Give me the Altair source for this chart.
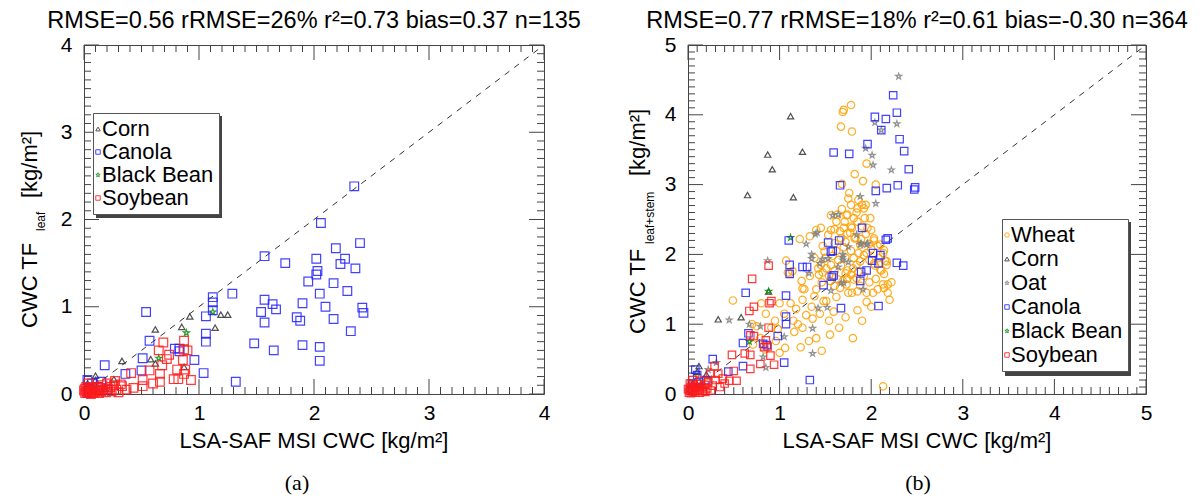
import altair as alt
import pandas as pd

SANS = "Liberation Sans"
SERIF = "Liberation Serif"
STAR = ("M0,-1L0.2245,-0.309L0.9511,-0.309L0.3633,0.118L0.5878,0.809L0,0.382"
        "L-0.5878,0.809L-0.3633,0.118L-0.9511,-0.309L-0.2245,-0.309Z")

# ---------------- panel (a): CWC TF leaf vs LSA-SAF MSI CWC ----------------
A_CANOLA = [(1.12, 1.11), (1.12, 1.05), (1.12, 0.96), (1.29, 1.15), (1.57, 1.08), (1.64, 1.03),
            (1.67, 0.97), (1.54, 0.94), (1.57, 0.82), (0.54, 0.94), (1.06, 0.89), (1.06, 0.69),
            (1.06, 0.60), (1.48, 0.58), (1.65, 0.50), (0.57, 0.61), (0.79, 0.52), (0.83, 0.52),
            (0.83, 0.49), (0.96, 0.39), (0.51, 0.41), (0.50, 0.27), (1.04, 0.24), (0.18, 0.33),
            (0.36, 0.23), (1.32, 0.14), (0.03, 0.16),
            (2.35, 2.38), (2.06, 1.96), (1.57, 1.58), (1.75, 1.50), (2.02, 1.55), (2.03, 1.41),
            (2.19, 1.67), (2.27, 1.55), (2.40, 1.73), (2.23, 1.49), (2.36, 1.44), (2.17, 1.27),
            (2.29, 1.18), (2.05, 1.15), (1.95, 1.29), (2.02, 1.37), (2.42, 0.99), (2.43, 0.93),
            (2.32, 0.72), (2.05, 0.54), (2.05, 0.38), (1.90, 0.56), (1.85, 0.88), (1.88, 0.84),
            (1.90, 1.04), (2.10, 1.00), (2.17, 0.86),
            (0.03, 0.02), (0.05, 0.06), (0.12, 0.08), (0.20, 0.05), (0.07, 0.12), (0.15, 0.14)]
A_CORN = [(0.92, 0.89), (1.19, 0.91), (1.25, 0.91), (0.62, 0.74), (0.85, 0.77), (1.14, 0.76),
          (0.33, 0.38), (0.58, 0.40), (0.62, 0.35), (0.87, 0.31), (0.10, 0.21), (0.10, 0.16),
          (0.26, 0.17), (0.19, 0.06), (0.05, 0.08), (0.12, 0.03), (0.03, 0.12)]
A_BLACKBEAN = [(1.12, 0.94), (0.89, 0.70), (0.65, 0.41), (0.08, 0.06)]
A_SOYBEAN = [(0.69, 0.59), (0.87, 0.61), (0.65, 0.50), (0.72, 0.40), (0.87, 0.51), (0.90, 0.50),
             (0.86, 0.39), (0.68, 0.33), (0.57, 0.27), (0.41, 0.24), (0.66, 0.23), (0.81, 0.28),
             (0.87, 0.23), (0.88, 0.28), (0.78, 0.17), (0.82, 0.17), (0.93, 0.16), (0.66, 0.14),
             (0.51, 0.16), (0.51, 0.09), (0.43, 0.07), (0.32, 0.11), (0.33, 0.09), (0.27, 0.15),
             (0.23, 0.08), (0.14, 0.07), (0.74, 0.45), (0.60, 0.12), (0.37, 0.05),
             (0.01, 0.01), (0.02, 0.03), (0.03, 0.01), (0.04, 0.05), (0.05, 0.02), (0.06, 0.07),
             (0.07, 0.03), (0.08, 0.01), (0.09, 0.05), (0.10, 0.02), (0.11, 0.08), (0.12, 0.04),
             (0.13, 0.01), (0.15, 0.03), (0.16, 0.10), (0.17, 0.05), (0.19, 0.02), (0.20, 0.12),
             (0.21, 0.06), (0.24, 0.03), (0.26, 0.10), (0.28, 0.05), (0.30, 0.02), (0.02, 0.08),
             (0.04, 0.12), (0.06, 0.00), (0.00, 0.04), (0.01, 0.06)]

# ---------------- panel (b): CWC TF leaf+stem vs LSA-SAF MSI CWC ----------------
B_WHEAT = [(1.22, 2.22), (1.40, 2.35), (1.07, 1.91), (1.11, 1.73), (1.14, 1.76), (1.24, 1.62),
           (1.25, 1.51), (1.27, 1.50), (1.33, 1.69), (1.40, 1.50), (1.43, 1.71), (1.46, 1.60),
           (1.48, 1.33), (1.51, 1.33), (1.18, 1.22), (1.29, 1.13), (1.36, 1.08), (1.16, 0.89),
           (1.32, 0.76), (1.40, 0.80), (1.23, 0.67), (1.46, 0.62), (1.54, 1.05), (1.59, 1.18),
           (1.62, 1.39), (1.66, 1.52), (1.80, 0.80), (1.79, 1.45), (1.85, 1.47), (1.73, 1.57),
           (1.84, 1.66), (1.95, 1.32), (1.95, 1.45), (2.02, 1.45), (2.07, 1.50), (2.13, 1.57),
           (2.18, 1.57), (2.14, 1.52), (2.17, 1.85), (2.10, 1.78), (2.14, 1.72), (2.03, 1.87),
           (1.98, 1.92), (1.92, 1.99), (1.84, 1.85), (1.81, 1.95), (1.92, 1.69), (1.81, 1.64),
           (1.78, 1.71), (1.72, 1.73), (1.69, 1.62), (1.64, 1.64), (1.60, 1.76), (1.56, 1.85),
           (1.54, 1.69), (1.51, 1.80), (1.45, 1.85), (1.42, 1.80), (1.38, 1.95), (1.49, 2.04),
           (1.60, 2.16), (1.67, 2.23), (1.74, 2.30), (1.78, 2.40), (1.85, 2.47), (1.93, 2.52),
           (1.71, 2.47), (1.73, 2.56), (1.56, 2.56), (1.62, 2.47), (1.85, 2.66), (1.90, 2.71),
           (1.78, 2.71), (1.96, 2.38), (2.03, 2.23), (2.14, 2.06), (2.10, 2.14), (1.88, 2.14),
           (1.82, 2.23), (1.56, 2.35), (1.53, 2.28), (1.09, 1.74), (1.06, 0.66), (1.00, 0.59),
           (0.96, 0.76), (0.91, 0.95), (0.75, 0.97), (0.79, 0.80), (0.71, 0.71), (0.49, 1.34),
           (2.13, 0.11), (0.84, 0.64), (0.98, 0.93),
           (1.70, 4.07), (1.78, 4.14), (1.69, 4.04), (1.67, 3.83), (1.79, 3.76), (1.91, 3.05),
           (1.68, 3.01), (1.75, 2.80), (1.86, 2.78), (1.94, 2.71), (1.92, 2.66), (1.63, 2.57),
           (1.74, 2.57), (1.81, 2.52), (1.99, 2.52), (1.79, 2.38), (1.70, 2.38), (1.60, 2.36),
           (1.45, 2.38), (1.77, 2.31), (1.83, 2.24), (1.94, 2.29), (1.89, 2.22), (1.33, 2.26),
           (1.47, 1.74), (2.03, 2.20), (2.07, 2.12), (2.00, 2.08), (2.13, 2.02), (2.15, 1.91),
           (2.04, 1.84), (2.11, 1.77), (2.17, 1.90), (1.74, 1.77), (1.67, 1.84),
           (1.72, 1.10), (1.85, 1.20), (1.65, 0.95), (1.90, 1.05), (2.00, 1.25), (1.55, 0.85),
           (1.35, 1.25), (1.25, 1.35), (1.12, 1.30), (1.05, 1.15), (0.95, 1.05), (1.20, 1.00),
           (1.44, 1.15), (2.20, 1.35), (2.22, 1.60), (2.18, 1.45), (2.05, 1.65), (1.98, 1.60),
           (1.88, 1.55), (1.75, 1.45), (0.06, 0.10), (0.14, 0.05), (0.22, 0.16),
           (1.62, 2.05), (1.70, 2.10), (1.78, 2.05), (1.86, 2.02), (1.72, 1.95), (1.64, 1.92),
           (1.58, 1.98), (1.80, 1.80), (1.88, 1.90), (1.95, 2.02), (1.98, 2.15), (1.66, 2.33),
           (1.72, 2.18), (1.90, 2.40), (2.00, 2.35), (1.55, 1.62), (1.60, 1.55), (1.74, 1.65),
           (1.86, 1.75), (2.08, 1.95), (1.50, 1.95), (1.47, 2.12), (1.84, 2.60), (1.68, 2.65),
           (1.76, 2.88), (1.82, 3.15), (1.95, 3.30), (2.05, 3.00), (1.25, 0.95), (1.15, 1.05),
           (1.38, 1.40), (0.85, 1.15), (0.80, 1.30), (1.00, 1.30), (0.70, 1.00)]
B_OAT = [(2.05, 2.73), (1.58, 2.56), (1.41, 2.31), (1.29, 2.15), (1.35, 1.94), (1.32, 1.73),
         (1.44, 1.87), (1.64, 1.82), (1.53, 1.94), (1.75, 1.89), (1.69, 1.96), (1.88, 2.14),
         (1.95, 2.14), (1.84, 2.28), (1.67, 1.59), (1.70, 1.59), (1.56, 1.48), (1.42, 1.23),
         (1.52, 1.24), (1.91, 1.50), (1.36, 0.94), (1.36, 0.58), (0.87, 1.91), (0.67, 1.00),
         (0.45, 1.06), (0.79, 0.97), (0.82, 0.53), (1.05, 0.82), (0.31, 0.45), (0.22, 0.35),
         (0.85, 0.38), (0.10, 0.26),
         (2.04, 3.89), (2.28, 3.87), (2.11, 3.78), (1.94, 3.52), (2.01, 3.42), (2.02, 3.28),
         (2.22, 3.21), (1.88, 2.83), (1.64, 2.57), (1.39, 2.29), (1.35, 2.00), (1.47, 1.93),
         (1.75, 2.11), (1.89, 2.16), (1.96, 2.16), (1.69, 2.00), (1.69, 1.92), (2.30, 4.55),
         (0.05, 0.12), (0.15, 0.20)]
B_CORN = [(0.65, 2.85), (0.87, 3.43), (0.92, 3.22), (1.12, 3.98), (1.15, 2.82), (1.25, 3.47),
          (0.33, 1.07), (0.58, 1.10), (0.88, 1.47), (0.12, 0.40), (0.10, 0.32), (0.05, 0.15),
          (0.03, 0.08), (0.15, 0.12), (0.20, 0.28)]
B_CANOLA = [(1.90, 2.38), (2.18, 2.23), (1.65, 2.20), (1.53, 2.17), (1.56, 2.04), (1.10, 2.20),
            (2.10, 1.99), (2.08, 1.87), (2.35, 1.84), (1.89, 1.75), (1.88, 1.62), (1.57, 1.68),
            (1.48, 1.56), (1.25, 1.82), (1.11, 1.85), (1.11, 1.72), (2.08, 1.26), (1.67, 1.23),
            (1.07, 1.41), (0.63, 1.45), (1.07, 1.11), (1.07, 1.00), (0.98, 0.83), (0.82, 0.72),
            (0.86, 0.70), (0.66, 0.87), (0.60, 0.73), (0.27, 0.50), (0.60, 0.40), (0.44, 0.32),
            (1.05, 0.45), (1.33, 0.20), (0.10, 0.27),
            (2.24, 4.28), (2.04, 3.97), (2.16, 3.94), (2.28, 4.03), (2.11, 3.78), (2.31, 3.65),
            (1.96, 3.58), (2.36, 3.48), (1.59, 3.46), (1.76, 3.44), (2.41, 3.22), (1.66, 2.99),
            (2.05, 2.91), (2.17, 2.95), (2.29, 2.99), (2.48, 2.96), (2.47, 2.93), (2.16, 2.21),
            (1.58, 2.05), (2.02, 2.02), (2.01, 1.91), (2.28, 1.88), (1.30, 1.82), (1.95, 1.77),
            (1.59, 1.70), (0.02, 0.05), (0.05, 0.15), (0.12, 0.10), (0.20, 0.20), (0.08, 0.35)]
B_BLACKBEAN = [(1.12, 2.24), (0.88, 1.47), (0.67, 0.75), (0.10, 0.12)]
B_SOYBEAN = [(0.88, 1.84), (0.70, 1.65), (0.89, 1.30), (0.91, 1.33), (0.72, 1.25), (0.67, 1.19),
             (0.88, 0.95), (0.72, 0.83), (0.68, 0.84), (0.85, 0.77), (0.83, 0.67), (0.87, 0.68),
             (0.48, 0.56), (0.62, 0.58), (0.68, 0.56), (0.90, 0.55), (0.79, 0.43), (0.94, 0.42),
             (0.68, 0.36), (0.50, 0.33), (0.53, 0.19), (0.45, 0.19), (0.33, 0.29), (0.29, 0.40),
             (0.24, 0.29), (0.14, 0.19),
             (0.01, 0.02), (0.02, 0.05), (0.03, 0.01), (0.04, 0.08), (0.05, 0.03), (0.06, 0.12),
             (0.07, 0.05), (0.08, 0.02), (0.09, 0.09), (0.10, 0.04), (0.11, 0.14), (0.12, 0.07),
             (0.13, 0.02), (0.15, 0.10), (0.16, 0.05), (0.18, 0.13), (0.19, 0.03), (0.21, 0.08),
             (0.22, 0.17), (0.25, 0.05), (0.27, 0.12), (0.30, 0.20), (0.35, 0.10), (0.38, 0.22),
             (0.00, 0.07), (0.02, 0.15), (0.05, 0.20), (0.40, 0.15), (0.03, 0.10)]

CROPS_A = ["Corn", "Canola", "Black Bean", "Soybean"]
CROPS_B = ["Wheat", "Corn", "Oat", "Canola", "Black Bean", "Soybean"]
COLORS = {"Wheat": "#ffa000", "Corn": "#333333", "Oat": "#808080", "Canola": "#2222ff",
          "Black Bean": "#0a8a0a", "Soybean": "#ff1a1a"}
SHAPES = {"Wheat": "circle", "Corn": "triangle-up", "Oat": STAR, "Canola": "square",
          "Black Bean": STAR, "Soybean": "square"}
SMALL = ["Corn", "Oat", "Black Bean"]

TITLE_A = "RMSE=0.56 rRMSE=26% r\u00b2=0.73 bias=0.37 n=135"
TITLE_B = "RMSE=0.77 rRMSE=18% r\u00b2=0.61 bias=-0.30 n=364"
XTITLE = "LSA-SAF MSI CWC [kg/m\u00b2]"

TICK = "#444444"
MAJ, MIN = 15, 7


def table(groups):
    rows = []
    for crop, pts in groups:
        for x, y in pts:
            rows.append({"crop": crop, "x": x, "y": y})
    return pd.DataFrame(rows)


def txt(s, x, y, size=22, font=SANS, angle=0, align="center"):
    kw = dict(text=s, font=font, fontSize=size, align=align, baseline="alphabetic", color="black")
    if angle:
        kw["angle"] = angle
    return alt.Chart(pd.DataFrame({"k": [0]})).mark_text(**kw).encode(
        x=alt.value(x), y=alt.value(y))


def panel(df, m, crops, big, small, W, H, title, ytitle, caption, leg_xy, leg_wh, row_pad):
    xs = alt.Scale(domain=[0, m], nice=False, zero=False)
    ys = alt.Scale(domain=[0, m], nice=False, zero=False)
    majors = list(range(m + 1))
    minors = [round(i * 0.1, 1) for i in range(m * 10 + 1) if i % 10]
    maj_df = pd.DataFrame({"v": majors})
    min_df = pd.DataFrame({"v": minors})

    def lab(orient):
        return alt.Axis(orient=orient, values=majors, format="d", ticks=False, tickSize=0,
                        domain=False, grid=False, title=None, labelFont=SANS, labelFontSize=21,
                        labelColor="black", labelPadding=(8 if orient == "bottom" else 12),
                        labelFlush=False, labelOverlap=False)

    leg = alt.Legend(orient="none", legendX=leg_xy[0], legendY=leg_xy[1], title=None,
                     direction="vertical", labelFont=SANS, labelFontSize=22, labelColor="black",
                     symbolSize=20, symbolStrokeWidth=1,
                     symbolOffset=alt.ExprRef("-11"), labelOffset=alt.ExprRef("-7"),
                     rowPadding=row_pad, padding=5, strokeColor="#555555", fillColor="white",
                     cornerRadius=0)

    color = alt.Color("crop:N", scale=alt.Scale(domain=crops, range=[COLORS[c] for c in crops]),
                      legend=leg)
    shape = alt.Shape("crop:N", scale=alt.Scale(domain=crops, range=[SHAPES[c] for c in crops]),
                      legend=leg)

    def pts(sel, size, first=False):
        ax_x = lab("bottom") if first else None
        ax_y = lab("left") if first else None
        return alt.Chart(df).transform_filter(
            alt.FieldOneOfPredicate(field="crop", oneOf=sel)
        ).mark_point(filled=False, strokeWidth=1.2, opacity=0.85, size=size).encode(
            x=alt.X("x:Q", scale=xs, axis=ax_x), y=alt.Y("y:Q", scale=ys, axis=ax_y),
            color=color, shape=shape)

    groups = []
    if "Wheat" in crops:
        groups.append((["Wheat"], big))
    groups.append(([c for c in crops if c in SMALL], small))
    groups.append(([c for c in crops if c in ("Canola", "Soybean")], big))
    point_layers = [pts(sel, size, first=(i == 0)) for i, (sel, size) in enumerate(groups)]

    one = pd.DataFrame({"x": [0, m], "y": [0, m]})
    line = alt.Chart(one).mark_line(strokeDash=[6, 6], color="#333333", strokeWidth=1).encode(
        x=alt.X("x:Q", scale=xs, axis=None), y=alt.Y("y:Q", scale=ys, axis=None))

    def xticks(d, y0, y1):
        return alt.Chart(d).mark_rule(color=TICK, strokeWidth=1).encode(
            x=alt.X("v:Q", scale=xs, axis=None), y=alt.value(y0), y2=alt.value(y1))

    def yticks(d, x0, x1):
        return alt.Chart(d).mark_rule(color=TICK, strokeWidth=1).encode(
            y=alt.Y("v:Q", scale=ys, axis=None), x=alt.value(x0), x2=alt.value(x1))

    ticks = [xticks(maj_df, H, H - MAJ), xticks(min_df, H, H - MIN),
             xticks(maj_df, 0, MAJ), xticks(min_df, 0, MIN),
             yticks(maj_df, 0, MAJ), yticks(min_df, 0, MIN),
             yticks(maj_df, W, W - MAJ), yticks(min_df, W, W - MIN)]

    lx, ly = leg_xy
    lw, lh = leg_wh
    shadow_rect = alt.Chart(pd.DataFrame({"k": [0]})).mark_rect(color="#444444").encode(
        x=alt.value(lx + 3), x2=alt.value(lx + 3 + lw),
        y=alt.value(ly + 3), y2=alt.value(ly + 3 + lh))

    texts = [txt(title, W / 2, -17, size=23.5),
             txt(XTITLE, W / 2, H + 54, size=22),
             txt(caption[0], caption[1], H + 96, size=22, font=SERIF)]
    for s, size, x, y in ytitle:
        texts.append(txt(s, x, y, size=size, angle=270, align="left"))

    return alt.layer(
        *ticks, line, shadow_rect, *point_layers, *texts,
    ).resolve_axis(x="independent", y="independent").properties(width=W, height=H)


df_a = table([("Canola", A_CANOLA), ("Corn", A_CORN), ("Black Bean", A_BLACKBEAN),
              ("Soybean", A_SOYBEAN)])
df_b = table([("Wheat", B_WHEAT), ("Oat", B_OAT), ("Canola", B_CANOLA), ("Corn", B_CORN),
              ("Black Bean", B_BLACKBEAN), ("Soybean", B_SOYBEAN)])

WA, WB, H = 460, 458, 349
pa = panel(df_a, 4, CROPS_A, 75, 40, WA, H, TITLE_A,
           [("CWC TF", 22, -47, 283), ("leaf", 12, -39, 186), ("[kg/m\u00b2]", 22, -47, 153)],
           ("(a)", 213), (9, 68), (126, 102), 1)
pb = panel(df_b, 5, CROPS_B, 55, 38, WB, H, TITLE_B,
           [("CWC TF", 22, -43, 289), ("leaf+stem", 12, -34, 199), ("[kg/m\u00b2]", 22, -43, 131)],
           ("(b)", 230), (314, 174), (126, 154), 2)

chart = alt.hconcat(pa, pb, spacing=144, bounds="flush").resolve_scale(
    color="independent", shape="independent"
).properties(
    padding={"left": 18, "top": 8, "right": 5, "bottom": 0}, background="white"
).configure_view(stroke="#444444", strokeWidth=1)

chart.save("out.html", embed_options={"renderer": "svg", "actions": False})
